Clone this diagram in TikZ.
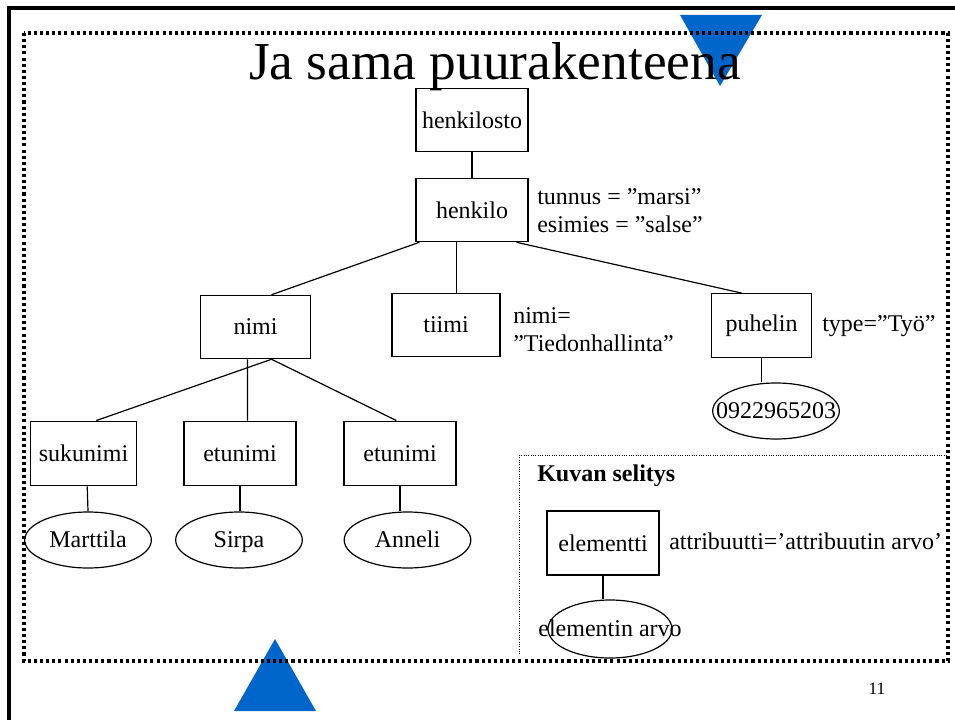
\documentclass[tikz,border=0pt]{standalone}
\usepackage{fontspec}
\setmainfont{Liberation Serif}
\usetikzlibrary{shapes.geometric,calc}
\definecolor{triblue}{HTML}{0066CC}
\newcommand{\evtext}[1]{\makebox[0pt]{\smash{#1}\vphantom{M}}}
\begin{document}
\begin{tikzpicture}[x=0.75pt,y=-0.75pt,
  txt/.style={font=\fontsize{18}{21}\selectfont},
  box/.style={txt,draw,line width=0.9pt,rectangle,minimum height=47.5pt,inner sep=0pt},
  val/.style={txt,draw,line width=0.9pt,ellipse,inner sep=0pt,minimum width=95pt,minimum height=42pt},
  attr/.style={txt,anchor=west,align=left,inner sep=0pt},
  conn/.style={line width=0.9pt},
  bigdot/.style={line width=2.5pt,dash pattern=on 2.3pt off 2.3pt},
  smalldot/.style={line width=0.75pt,dash pattern=on 0.75pt off 1pt},
  frame/.style={line width=2.3pt},
  tri/.style={fill=triblue,draw=none}
]
\useasboundingbox (0,0) rectangle (955,720);
% slide frame
\draw[frame] (955,8) -- (9,8) -- (9,720);
% triangles
\fill[tri] (680,15) -- (762,15) -- (720,86) -- cycle;
\fill[tri] (275,639) -- (316,711) -- (234,711) -- cycle;
% dotted borders
\draw[bigdot] (24,33) rectangle (948,661);
\draw[smalldot] (519,455) -- (947,455);
\draw[smalldot] (519,455) -- (519,655);
% title
\node[anchor=base,inner sep=0pt,font=\fontsize{40}{44}\selectfont] (title) at (495,80) {Ja sama puurakenteena};
% nodes
\node[box,minimum width=84pt] (henkilosto) at (472,120) {henkilosto};
\node[box,minimum width=84pt] (henkilo) at (472,210) {henkilo};
\node[attr] (henkiloattr) at (537,211) {tunnus = ”marsi”\\esimies = ”salse”};
\node[box,minimum width=83pt] (nimi) at (255.5,327) {nimi};
\node[box,minimum width=81pt] (tiimi) at (446,325) {tiimi};
\node[attr] (tiimiattr) at (513,330) {nimi=\\”Tiedonhallinta”};
\node[box,minimum width=74.5pt] (puhelin) at (761.5,325.5) {puhelin};
\node[attr] (puhelinattr) at (822,326) {type=”Työ”};
\node[val] (phone) at (776,411) {\evtext{0922965203}};
\node[box,minimum width=79pt,minimum height=48.5pt] (sukunimi) at (83.5,453.5) {sukunimi};
\node[box,minimum width=84pt,minimum height=48.5pt] (etunimiA) at (240,453.5) {etunimi};
\node[box,minimum width=84pt,minimum height=48.5pt] (etunimiB) at (400,453.5) {etunimi};
\node[val] (marttila) at (88,540) {\evtext{Marttila}};
\node[val] (sirpa) at (239,540) {\evtext{Sirpa}};
\node[val] (anneli) at (407.5,540) {\evtext{Anneli}};
% legend
\node[txt,anchor=west,inner sep=0pt,font=\fontsize{18}{21}\selectfont\bfseries] (legendtitle) at (537,476) {Kuvan selitys};
\node[box,minimum width=84pt,minimum height=48pt] (elementti) at (603,543) {elementti};
\node[attr] (legendattr) at (669,541) {attribuutti=’attribuutin arvo’};
\node[val,minimum width=93pt,minimum height=43.5pt] (arvo) at (610,629) {\evtext{elementin arvo}};
% connectors
\draw[conn] (henkilosto.south) -- (henkilo.north);
\draw[conn] ($(henkilo.south west)+(4,0)$) -- ($(nimi.north west)+(72,0)$);
\draw[conn] ($(henkilo.south west)+(41,0)$) -- ($(tiimi.north west)+(65,0)$);
\draw[conn] ($(henkilo.south west)+(101,0)$) -- ($(puhelin.north west)+(31,0)$);
\draw[conn] (puhelin.south) -- (puhelin.south |- phone.north);
\draw[conn] ($(nimi.south west)+(72,0)$) -- ($(sukunimi.north west)+(66,0)$);
\draw[conn] ($(nimi.south west)+(48,0)$) -- ($(etunimiA.north west)+(64,0)$);
\draw[conn] ($(nimi.south west)+(72,0)$) -- ($(etunimiB.north west)+(53,0)$);
\draw[conn] ($(sukunimi.south west)+(57,0)$) -- (marttila.north);
\draw[conn] (etunimiA.south) -- (etunimiA.south |- sirpa.north);
\draw[conn] (etunimiB.south) -- (etunimiB.south |- anneli.north);
\draw[conn] (elementti.south) -- (elementti.south |- arvo.north);
% page number
\node[anchor=base,inner sep=0pt,font=\fontsize{13}{15}\selectfont] (pagenum) at (877,694) {11};
\end{tikzpicture}
\end{document}
